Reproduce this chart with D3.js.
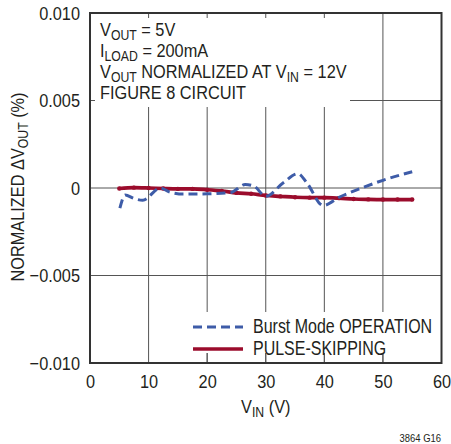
<!DOCTYPE html>
<html>
<head>
<meta charset="utf-8">
<script src="https://cdn.jsdelivr.net/npm/d3@7"></script>
<style>
  body { margin: 0; background: #fff; }
  svg text { font-family: "Liberation Sans Narrow", "Arial Narrow", "Liberation Sans", sans-serif; fill: #231f20; }
  .grid { stroke: #555; stroke-width: 1; }
  .frame { fill: none; stroke: #333; stroke-width: 2; }
</style>
</head>
<body>
<svg id="chart" width="451" height="444"></svg>
<script>
// x ticks and y ticks
const xTicks = [0, 10, 20, 30, 40, 50, 60];
const yTicks = [0.010, 0.005, 0, -0.005, -0.010];
const yTickLabels = ["0.010", "0.005", "0", "\u22120.005", "\u22120.010"];

// Burst Mode OPERATION (dashed)
const burstVin = [5.1, 6, 7.5, 9, 12, 13.5, 16, 20, 24, 26.5, 28, 30, 33, 35.5, 37, 39.8, 42.7, 46, 50, 55];
const burstDv = [-0.00115, -0.0004, -0.0006, -0.0007, 0, -0.00022, -0.00035, -0.00033, -0.00026, 0.0002, 0.0001,
  -0.00047, 0.0003, 0.00082, 0.0003, -0.001, -0.0005, -0.00005, 0.00044, 0.00093];

// PULSE-SKIPPING (solid)
const pulseVin = [5, 7.5, 10, 12.5, 15, 17.5, 20, 22.5, 25, 27.5, 30, 32.5, 35, 37.5, 40, 42.5, 45, 47.5, 50, 52.5, 55];
const pulseDv = [-0.00003, 0.00002, 0, -0.00003, -0.00005, -0.00005, -0.0001, -0.00017, -0.00028, -0.00033, -0.00043,
  -0.00048, -0.00053, -0.00055, -0.00055, -0.00058, -0.00063, -0.00065, -0.00066, -0.00066, -0.00066];

const svg = d3.select("svg#chart");
const pLeft = 90, pRight = 441.5, pTop = 13, pBottom = 363;
const squeeze = 0.86;   // no narrow face installed, so squeeze the regular one

const x = d3.scaleLinear().domain([0, 60]).range([pLeft, pRight]);
const y = d3.scaleLinear().domain([-0.01, 0.01]).range([pBottom, pTop]);

const blue = "#3e5ca8", red = "#9b0c2c";

// grid
const grid = svg.append("g");
grid.selectAll("line.v").data(xTicks.slice(1, -1)).enter().append("line")
  .attr("class", "grid").attr("x1", d => x(d)).attr("x2", d => x(d)).attr("y1", pTop).attr("y2", pBottom);
grid.selectAll("line.h").data(yTicks.slice(1, -1)).enter().append("line")
  .attr("class", "grid").attr("x1", pLeft).attr("x2", pRight).attr("y1", d => y(d)).attr("y2", d => y(d));

// white boxes behind the notes and legend
svg.append("rect").attr("x", pLeft).attr("y", pTop).attr("width", 260).attr("height", 94).attr("fill", "#fff");
svg.append("rect").attr("x", 185).attr("y", 312).attr("width", pRight - 185).attr("height", 41).attr("fill", "#fff");

// short ticks where the boxes hide the grid
svg.selectAll("line.ttick").data([10, 20, 30, 40]).enter().append("line")
  .attr("class", "grid").attr("x1", d => x(d)).attr("x2", d => x(d)).attr("y1", pTop).attr("y2", pTop + 5);
svg.selectAll("line.btick").data([20, 30, 40, 50]).enter().append("line")
  .attr("class", "grid").attr("x1", d => x(d)).attr("x2", d => x(d)).attr("y1", pBottom - 10).attr("y2", pBottom);
svg.append("line").attr("class", "grid").attr("x1", pLeft).attr("x2", pLeft + 5).attr("y1", y(0.005)).attr("y2", y(0.005));

// data
const pulse = pulseVin.map((v, i) => [v, pulseDv[i]]);
const burst = burstVin.map((v, i) => [v, burstDv[i]]);
const line = d3.line().x(d => x(d[0])).y(d => y(d[1])).curve(d3.curveMonotoneX);

svg.append("path").datum(pulse).attr("d", line).attr("fill", "none")
  .attr("stroke", red).attr("stroke-width", 3.7);
svg.selectAll("circle.pt").data(pulse).enter().append("circle")
  .attr("cx", d => x(d[0])).attr("cy", d => y(d[1])).attr("r", 2.2).attr("fill", red);
svg.append("path").datum(burst).attr("d", line).attr("fill", "none")
  .attr("stroke", blue).attr("stroke-width", 3).attr("stroke-dasharray", "9,5");

// frame
svg.append("rect").attr("class", "frame").attr("x", pLeft).attr("y", pTop)
  .attr("width", pRight - pLeft).attr("height", pBottom - pTop);

// axes (labels only)
const xAxis = d3.axisBottom(x).tickValues(xTicks).tickSize(0).tickPadding(12).tickFormat(d3.format("d"));
const gx = svg.append("g").attr("transform", `translate(0,${pBottom})`).call(xAxis);
gx.select(".domain").remove();
gx.attr("font-family", null).attr("font-size", 19);
gx.selectAll("text").attr("fill", "#231f20").attr("transform", `scale(${squeeze},1)`);

const yAxis = d3.axisLeft(y).tickValues(yTicks).tickSize(0).tickPadding(10)
  .tickFormat((d, i) => yTickLabels[i]);
const gy = svg.append("g").attr("transform", `translate(${pLeft},0)`).call(yAxis);
gy.select(".domain").remove();
gy.attr("font-family", null).attr("font-size", 19);
gy.selectAll("text").attr("fill", "#231f20").attr("x", -10 / squeeze).attr("transform", `scale(${squeeze},1)`);

// text helper: squeezed text with optional subscripts
function label(px, py, parts, opts) {
  opts = opts || {};
  const size = opts.size || 19;
  const sq = opts.sq || squeeze;
  const t = svg.append("text")
    .attr("transform", `translate(${px},${py})${opts.rotate ? " rotate(" + opts.rotate + ")" : ""} scale(${sq},1)`)
    .attr("font-size", size)
    .attr("text-anchor", opts.anchor || "start");
  parts.forEach((p, i) => {
    const s = t.append("tspan").text(p[0]);
    if (p[1]) s.attr("font-size", size * 0.75).attr("dy", 4);
    else if (i > 0 && parts[i - 1][1]) s.attr("dy", -4);
  });
  return t;
}

// notes
label(100, 36, [["V"], ["OUT", 1], [" = 5V"]]);
label(100, 57, [["I"], ["LOAD", 1], [" = 200mA"]]);
label(100, 78, [["V"], ["OUT", 1], [" NORMALIZED AT V"], ["IN", 1], [" = 12V"]]);
label(100, 99, [["FIGURE 8 CIRCUIT"]]);

// legend
const leg = svg.append("g");
leg.append("line").attr("x1", 193).attr("x2", 243).attr("y1", 327).attr("y2", 327)
  .attr("stroke", blue).attr("stroke-width", 3).attr("stroke-dasharray", "9,5");
leg.append("line").attr("x1", 193).attr("x2", 243).attr("y1", 349).attr("y2", 349)
  .attr("stroke", red).attr("stroke-width", 3.7);
label(253, 333, [["Burst Mode OPERATION"]], { size: 19.5, sq: 0.82 });
label(253, 355, [["PULSE-SKIPPING"]], { size: 19.5, sq: 0.82 });

// axis titles
label(x(30), 413, [["V"], ["IN", 1], [" (V)"]], { anchor: "middle" });
label(24, 187, [["NORMALIZED \u0394V"], ["OUT", 1], [" (%)"]], { anchor: "middle", rotate: -90 });

label(441, 442, [["3864 G16"]], { size: 11, anchor: "end" });
</script>
</body>
</html>
